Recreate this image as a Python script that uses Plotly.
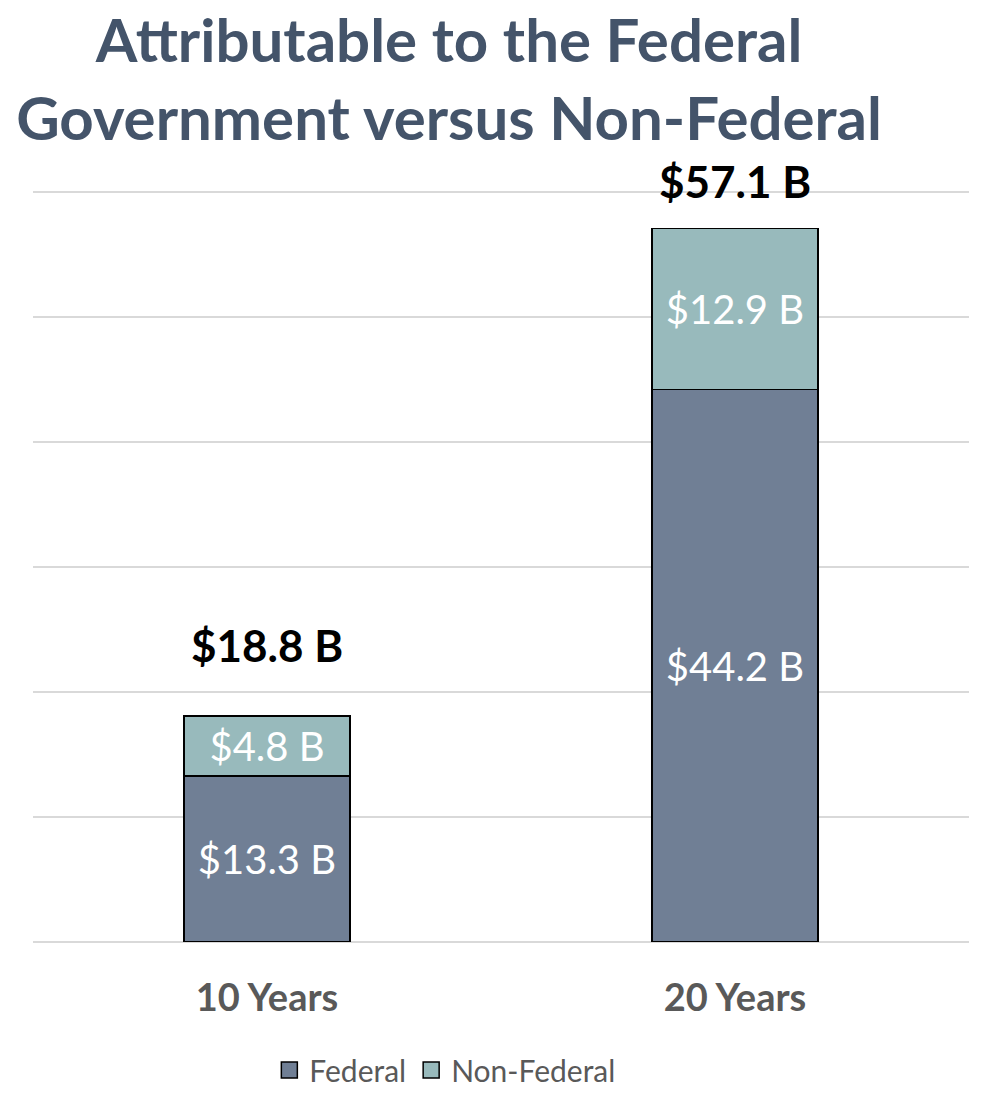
import plotly.graph_objects as go

categories = ["10 Years", "20 Years"]
federal = [13.3, 44.2]
non_federal = [4.8, 12.9]
federal_labels = ["$13.3 B", "$44.2 B"]
non_federal_labels = ["$4.8 B", "$12.9 B"]
total_labels = ["$18.8 B", "$57.1 B"]
total_yshift = [71, 47]

FONT = "Lato"
FED_COLOR = "#707F95"
NONFED_COLOR = "#98BABC"

fig = go.Figure()
fig.add_trace(go.Bar(
    name="Federal", x=categories, y=federal, text=federal_labels,
    textposition="inside", insidetextanchor="middle", constraintext="none",
    textfont=dict(color="white", size=40, family=FONT),
    marker=dict(color=FED_COLOR, line=dict(color="black", width=1.5)),
    showlegend=False,
))
fig.add_trace(go.Bar(
    name="Non-Federal", x=categories, y=non_federal, text=non_federal_labels,
    textposition="inside", insidetextanchor="middle", constraintext="none",
    textfont=dict(color="white", size=40, family=FONT),
    marker=dict(color=NONFED_COLOR, line=dict(color="black", width=1.5)),
    showlegend=False,
))
# legend entries with larger square swatches
for name, col in [("Federal", FED_COLOR), ("Non-Federal", NONFED_COLOR)]:
    fig.add_trace(go.Scatter(
        x=[None], y=[None], mode="markers", name=name,
        marker=dict(symbol="square", size=17, color=col, line=dict(color="black", width=1.5)),
    ))

for c, f, n, lab, ys in zip(categories, federal, non_federal, total_labels, total_yshift):
    fig.add_annotation(x=c, y=f + n, text=f"<b>{lab}</b>", showarrow=False,
                       yanchor="middle", yshift=ys,
                       font=dict(size=44, color="black", family=FONT))

fig.update_layout(
    barmode="stack",
    bargap=0.645,
    width=987, height=1095,
    paper_bgcolor="white", plot_bgcolor="white",
    margin=dict(l=33, r=18, t=186, b=153, autoexpand=False),
    title=dict(text="<b>Attributable to the Federal<br>Government versus Non-Federal</b>",
               x=0.455, xanchor="center", yref="container", y=0.9434, yanchor="middle",
               font=dict(size=60, color="#44546A", family=FONT)),
    xaxis=dict(showline=False, ticks="", ticklabelstandoff=30, automargin=False,
               tickfont=dict(size=38, color="#595959", family=FONT)),
    yaxis=dict(range=[0, 60.5], dtick=10, showticklabels=False, gridcolor="#D9D9D9",
               gridwidth=1.5, zeroline=True, zerolinecolor="#D9D9D9", zerolinewidth=1.5,
               automargin=False),
    legend=dict(orientation="h", x=0.44, xanchor="center", yref="container",
                y=0.0228, yanchor="middle", itemwidth=30,
                font=dict(size=30, color="#595959", family=FONT), traceorder="normal"),
    showlegend=True,
)
fig.update_xaxes(tickprefix="<b>", ticksuffix="</b>")

fig.write_html("out.html")
